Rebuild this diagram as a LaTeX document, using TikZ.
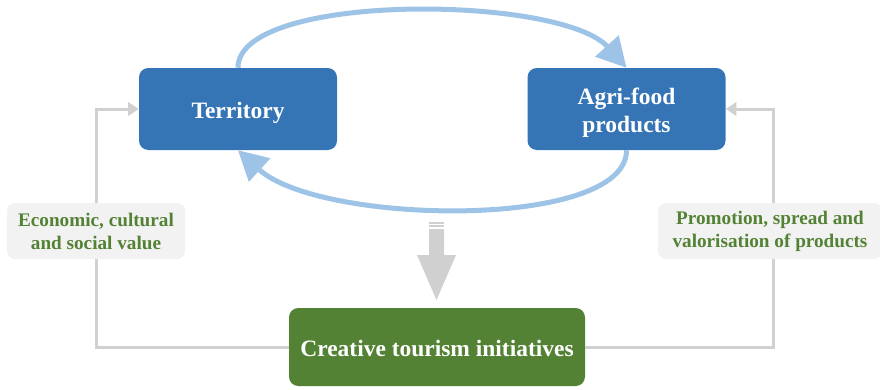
\documentclass[tikz,border=0pt]{standalone}
\usepackage{fontspec}
\setmainfont{Liberation Serif}
\usetikzlibrary{arrows.meta}

\definecolor{boxblue}{RGB}{54,117,181}
\definecolor{boxgreen}{RGB}{84,130,53}
\definecolor{arcblue}{RGB}{157,195,230}
\definecolor{linegray}{RGB}{208,208,208}
\definecolor{labelbg}{RGB}{242,242,242}

% box text sits a little below the middle
\newcommand{\boxtext}[1]{\raisebox{-3pt}[\height][\depth]{\begin{tabular}{@{}c@{}}#1\end{tabular}}}

\tikzset{
  mainbox/.style={rounded corners=7pt, inner sep=0pt, align=center, text=white,
    font=\bfseries\fontsize{17.6}{21}\selectfont},
  labelbox/.style={rounded corners=6pt, inner sep=0pt, align=center, fill=labelbg,
    text=boxgreen, font=\bfseries\fontsize{14.4}{17.3}\selectfont},
  cycle/.style={arcblue, line width=3.75pt, -{Triangle[length=22pt,width=23pt]}},
  feedback/.style={linegray, line width=2.25pt, -{Triangle[length=8pt,width=10pt]}},
}

\begin{document}
\begin{tikzpicture}[x=0.75pt,y=0.75pt,yscale=-1,xscale=1]
	\useasboundingbox (0,0) rectangle (880,389);
	% boxes
	\node [mainbox, fill=boxblue, minimum width=148.5pt, minimum height=61.5pt] (territory) at (238,109) {\boxtext{Territory}};
	\node [mainbox, fill=boxblue, minimum width=148.5pt, minimum height=61.5pt] (agrifood) at (626.5,109) {\boxtext{Agri-food\\products}};
	\node [mainbox, fill=boxgreen, minimum width=222pt, minimum height=58.5pt] (creative) at (437,347) {\boxtext{Creative tourism initiatives}};
	% feedback lines, behind the labels
	\draw [feedback] (creative.west) -| (96,230) |- (territory.west);
	\draw [feedback] (creative.east) -| (773,230) |- (agrifood.east);
	\node [labelbox, minimum width=133.5pt, minimum height=42pt] (value) at (96,231) {Economic, cultural\\and social value};
	\node [labelbox, minimum width=168pt, minimum height=42pt] (promotion) at (770,231) {Promotion, spread and\\valorisation of products};
	% the two arcs between territory and products
	\draw [cycle] (territory.north) .. controls +(0,-76) and +(-66,-73) .. (agrifood.north);
	\draw [cycle] (agrifood.south) .. controls +(0,80) and +(82,75) .. (territory.south);
	% block arrow down to the initiatives
	\coordinate (flow) at (436.5,229);
	\fill [linegray] (flow) ++(-7.5,-7) rectangle ++(15,1.6);
	\fill [linegray] (flow) ++(-7.5,-3.6) rectangle ++(15,1.6);
	\fill [linegray] (flow) ++(-7.5,0) -- ++(0,26) -- ++(-12,0) -- ++(19.5,45)
	  -- ++(19.5,-45) -- ++(-12,0) -- ++(0,-26) -- cycle;
\end{tikzpicture}
\end{document}
